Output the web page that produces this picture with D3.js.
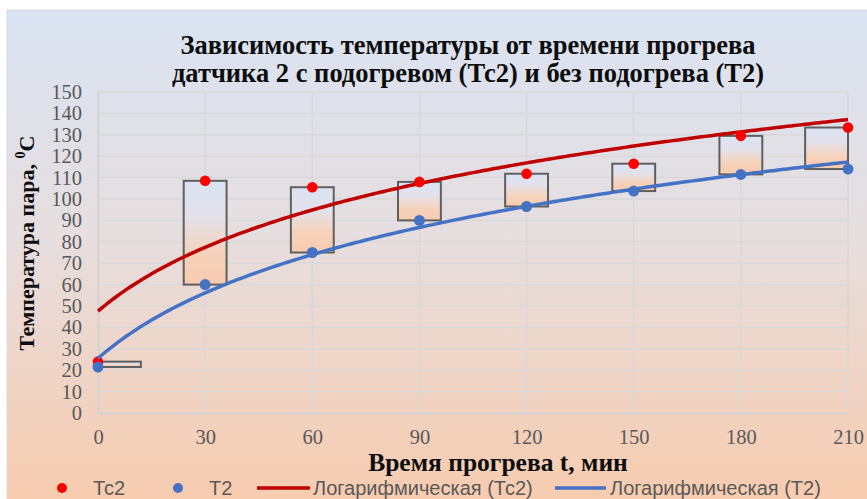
<!DOCTYPE html>
<html><head><meta charset="utf-8">
<script src="https://cdn.jsdelivr.net/npm/d3@7"></script>
<style>html,body{margin:0;padding:0;background:#fff;overflow:hidden}</style>
</head><body>
<svg id="c" width="867" height="499"></svg>
<script>
const times = [0, 30, 60, 90, 120, 150, 180, 210];
const tc2 = [24, 108.5, 105.5, 108, 111.8, 116.5, 129.5, 133.4];
const t2 = [21.5, 60, 75, 90, 96.5, 103.7, 111.5, 114];
const yTicks = d3.range(0, 151, 10);
const xTicks = [0, 30, 60, 90, 120, 150, 180, 210];
const titleLines = ["Зависимость температуры от времени прогрева", "датчика 2 с подогревом (Тс2) и без подогрева (Т2)"];
const xTitle = "Время прогрева t, мин";
const yTitleMain = "Температура пара, ";
const legendLabels = ["Тс2", "Т2", "Логарифмическая (Тс2)", "Логарифмическая (Т2)"];

const svg = d3.select("#c");
const defs = svg.append("defs");
const bg = defs.append("linearGradient").attr("id","bg").attr("x1",0).attr("y1",0).attr("x2",0).attr("y2",1);
bg.append("stop").attr("offset",0).attr("stop-color","#dae3f2");
bg.append("stop").attr("offset",0.45).attr("stop-color","#e6dedf");
bg.append("stop").attr("offset",1).attr("stop-color","#f8cbad");
const bx = defs.append("linearGradient").attr("id","box").attr("x1",0).attr("y1",0).attr("x2",0).attr("y2",1);
bx.append("stop").attr("offset",0).attr("stop-color","#dae3f3");
bx.append("stop").attr("offset",0.35).attr("stop-color","#e3e1ea");
bx.append("stop").attr("offset",0.7).attr("stop-color","#f6d2ba");
bx.append("stop").attr("offset",1).attr("stop-color","#f8cbad");

svg.append("rect").attr("x",7).attr("y",10).attr("width",870).attr("height",500)
  .attr("fill","url(#bg)").attr("stroke","#d9d9d9").attr("stroke-width",1);

const x = d3.scaleLinear().domain([0,210]).range([98,848]);
const y = d3.scaleLinear().domain([0,150]).range([413,92]);

// grid
const g = svg.append("g");
g.selectAll(".hg").data(yTicks).join("line")
  .attr("x1",x(0)).attr("x2",x(210)).attr("y1",d=>y(d)).attr("y2",d=>y(d))
  .attr("stroke","#d9d9d9").attr("stroke-width",1.5);
g.selectAll(".vg").data(xTicks).join("line")
  .attr("y1",y(0)).attr("y2",y(150)).attr("x1",d=>x(d)).attr("x2",d=>x(d))
  .attr("stroke","#d9d9d9").attr("stroke-width",1.5);

// axes labels
const yAxis = d3.axisLeft(y).tickValues(yTicks).tickSize(0).tickPadding(16);
const ya = svg.append("g").attr("transform",`translate(${x(0)},0)`).call(yAxis);
ya.select(".domain").attr("stroke","#d0d0d0").attr("stroke-width",1.5);
ya.selectAll("text").attr("font-family","'Liberation Serif', serif").attr("font-size",20.5).attr("fill","#595959");
const xAxis = d3.axisBottom(x).tickValues(xTicks).tickSize(0).tickPadding(16);
const xa = svg.append("g").attr("transform",`translate(0,${y(0)})`).call(xAxis);
xa.select(".domain").attr("stroke","#d0d0d0").attr("stroke-width",1.5);
xa.selectAll("text").attr("font-family","'Liberation Serif', serif").attr("font-size",20.5).attr("fill","#595959");

// up-down boxes
const bw = 12; // minutes
const boxes = times.map((t,i)=>{
  let x0 = Math.max(0, Math.min(210 - bw, t - bw/2));
  return {x0, hi: Math.max(tc2[i], t2[i]), lo: Math.min(tc2[i], t2[i])};
});
svg.append("g").selectAll("rect").data(boxes).join("rect")
  .attr("x",d=>x(d.x0)).attr("width",d=>x(d.x0+bw)-x(d.x0))
  .attr("y",d=>y(d.hi)).attr("height",d=>y(d.lo)-y(d.hi))
  .attr("fill","url(#box)").attr("stroke","#5f5f5f").attr("stroke-width",2);

// logarithmic trend (Excel: x = category index 1..n)
function logFit(vals){
  const n = vals.length;
  const L = vals.map((v,i)=>Math.log(i+1));
  const ml = d3.mean(L), my = d3.mean(vals);
  let sxy=0,sxx=0;
  L.forEach((l,i)=>{sxy+=(l-ml)*(vals[i]-my); sxx+=(l-ml)*(l-ml);});
  const a = sxy/sxx, b = my - a*ml;
  return d3.range(0, (n-1)*30 + 0.01, 1).map(t=>[t, a*Math.log(t/30+1)+b]);
}
const line = d3.line().x(d=>x(d[0])).y(d=>y(d[1])).curve(d3.curveLinear);

svg.append("path").datum(logFit(tc2)).attr("d",line).attr("fill","none")
  .attr("stroke","#c00000").attr("stroke-width",3.5);
svg.append("g").selectAll("circle").data(times).join("circle")
  .attr("cx",d=>x(d)).attr("cy",(d,i)=>y(tc2[i])).attr("r",5.3).attr("fill","#ff0000");
svg.append("path").datum(logFit(t2)).attr("d",line).attr("fill","none")
  .attr("stroke","#4472c4").attr("stroke-width",3.5);
svg.append("g").selectAll("circle").data(times).join("circle")
  .attr("cx",d=>x(d)).attr("cy",(d,i)=>y(t2[i])).attr("r",5.5).attr("fill","#4472c4");

// title
const tt = svg.append("text").attr("text-anchor","middle").attr("font-family","'Liberation Serif', serif")
  .attr("font-weight","bold").attr("font-size",26.5).attr("fill","#0d0d0d");
tt.selectAll("tspan").data(titleLines).join("tspan").attr("x",468).attr("y",(d,i)=>54+i*28).text(d=>d);

// axis titles
svg.append("text").attr("x",498).attr("y",471).attr("text-anchor","middle")
  .attr("font-family","'Liberation Serif', serif").attr("font-weight","bold").attr("font-size",25.5).attr("fill","#0d0d0d")
  .text(xTitle);
const yt = svg.append("text").attr("transform","translate(34,243) rotate(-90)").attr("text-anchor","middle")
  .attr("font-family","'Liberation Serif', serif").attr("font-weight","bold").attr("font-size",22).attr("fill","#0d0d0d");
yt.append("tspan").text(yTitleMain);
yt.append("tspan").attr("font-size",14).attr("dy",-9).text("0");
yt.append("tspan").attr("dy",9).text("С");

// legend
const lg = svg.append("g").attr("font-family","'Liberation Sans', Arial, sans-serif").attr("font-size",20).attr("fill","#595959");
const ly = 488;
lg.append("circle").attr("cx",62).attr("cy",ly).attr("r",5).attr("fill","#ff0000");
lg.append("text").attr("x",93).attr("y",ly+7).text(legendLabels[0]);
lg.append("circle").attr("cx",178).attr("cy",ly).attr("r",5).attr("fill","#4472c4");
lg.append("text").attr("x",209).attr("y",ly+7).text(legendLabels[1]);
lg.append("line").attr("x1",257).attr("x2",310).attr("y1",ly).attr("y2",ly).attr("stroke","#c00000").attr("stroke-width",3.5);
lg.append("text").attr("x",313).attr("y",ly+7).text(legendLabels[2]);
lg.append("line").attr("x1",555).attr("x2",606).attr("y1",ly).attr("y2",ly).attr("stroke","#4472c4").attr("stroke-width",3.5);
lg.append("text").attr("x",610).attr("y",ly+7).text(legendLabels[3]);
</script>
</body></html>
